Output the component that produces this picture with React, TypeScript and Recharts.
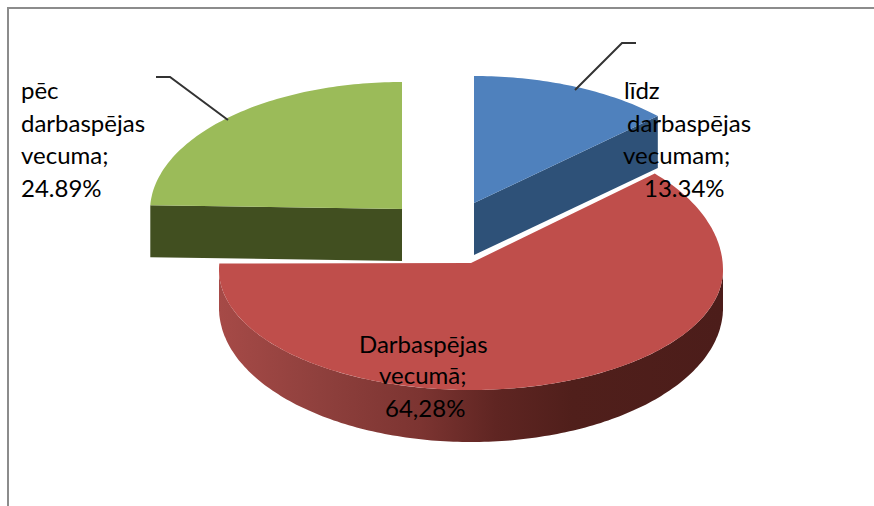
import * as React from "react";
import { PieChart, Pie, Cell } from "recharts";

const CATEGORIES = ["līdz darbaspējas vecumam", "Darbaspējas vecumā", "pēc darbaspējas vecuma"];
const VALUES = [13.34, 64.28, 24.89];
const VALUE_LABELS = ["13.34%", "64,28%", "24.89%"];
const LABEL_LINES = [
  ["līdz", "darbaspējas", "vecumam;", "13.34%"],
  ["Darbaspējas", "vecumā;", "64,28%"],
  ["pēc", "darbaspējas", "vecuma;", "24.89%"],
];
const TOP_COLORS = ["#4f81bd", "#bf4e4b", "#9bbb59"];
const SIDE_COLORS = ["#2e5178", "url(#redWall)", "#414f20"];

const DEPTH = 52;
const FONT = "Lato, 'Open Sans', sans-serif";

// where each exploded slice sits relative to the pie centre, the picture is not a true ellipse
const SLICES = [
  { dx: 3, dy: -67, ryBack: 127, ryFront: 127, apexDy: 0, face: "end" },
  { dx: 0, dy: 0, ryBack: 141, ryFront: 120, apexDy: -7, face: null },
  { dx: -69, dy: -59, ryBack: 129, ryFront: 129, apexDy: -2, face: "start" },
];

const LABEL_POS = [
  { xs: [624, 627, 623, 644], ys: [99, 132, 164, 197], line: "M575 90 L622 43 L636 43" },
  { xs: [359, 379, 385], ys: [353, 384, 417], line: null },
  { xs: [21, 21, 21, 21], ys: [99, 132, 164, 197], line: "M228 120 L170 77 L156 77" },
];

const chartData = CATEGORIES.map((name, i) => ({ name, value: VALUES[i], valueLabel: VALUE_LABELS[i] }));

function rim(cx: number, cy: number, r: number, s: any, deg: number) {
  const a = (deg * Math.PI) / 180;
  const sin = Math.sin(a);
  return [cx + r * Math.cos(a), cy - (sin >= 0 ? s.ryBack : s.ryFront) * sin];
}

function arcDegrees(from: number, to: number) {
  const out: number[] = [];
  const n = Math.max(1, Math.ceil(Math.abs(from - to)));
  for (let i = 0; i <= n; i++) out.push(from + ((to - from) * i) / n);
  return out;
}

const toPath = (pts: number[][]) =>
  pts.map((p, i) => `${i === 0 ? "M" : "L"}${p[0].toFixed(1)} ${p[1].toFixed(1)}`).join(" ") + " Z";

function SliceShape(props: any) {
  const { cx, cy, outerRadius, startAngle, endAngle, name } = props;
  const i = CATEGORIES.indexOf(name);
  const s = SLICES[i];
  const x = cx + s.dx;
  const y = cy + s.dy;
  const apex = [x, y + s.apexDy];
  const top = arcDegrees(startAngle, endAngle).map((d) => rim(x, y, outerRadius, s, d));

  let side: number[][];
  if (s.face) {
    const p = rim(x, y, outerRadius, s, s.face === "end" ? endAngle : startAngle);
    side = [apex, p, [p[0], p[1] + DEPTH], [apex[0], apex[1] + DEPTH]];
  } else {
    // the wall looks thinner towards the sides of the pie
    const degs = arcDegrees(0, -180);
    const upper = degs.map((d) => rim(x, y, outerRadius, s, d));
    const lower = degs.map((d) => {
      const p = rim(x, y, outerRadius, s, d);
      return [p[0], p[1] + DEPTH - 14 * (1 - Math.abs(Math.sin((d * Math.PI) / 180)))];
    });
    side = [...upper, ...lower.reverse()];
  }

  return (
    <g>
      <defs>
        <linearGradient id="redWall" gradientUnits="userSpaceOnUse" x1="219" y1="0" x2="723" y2="0">
          <stop offset="0" stopColor="#a64a47" />
          <stop offset="0.2" stopColor="#8f403d" />
          <stop offset="0.4" stopColor="#7c3431" />
          <stop offset="0.55" stopColor="#5f2522" />
          <stop offset="0.7" stopColor="#501f1b" />
          <stop offset="1" stopColor="#4c1d1a" />
        </linearGradient>
      </defs>
      <path d={toPath(side)} fill={SIDE_COLORS[i]} />
      <path d={toPath([apex, ...top])} fill={TOP_COLORS[i]} />
    </g>
  );
}

function SliceLabel(props: any) {
  const pos = LABEL_POS[props.index];
  return (
    <g>
      {pos.line && <path d={pos.line} fill="none" stroke="#333333" strokeWidth={2} />}
      {LABEL_LINES[props.index].map((t, k) => (
        <text key={k} x={pos.xs[k]} y={pos.ys[k]} fill="#000000" fontSize={24} fontFamily={FONT}>
          {t}
        </text>
      ))}
    </g>
  );
}

export default function App() {
  return (
    <div style={{ position: "absolute", left: 0, top: 0, width: 874, height: 506, background: "#fff", overflow: "hidden" }}>
      <div style={{ position: "absolute", left: 7, top: 7, width: 867, height: 499, borderTop: "2px solid #8c8c8c", borderLeft: "2px solid #8c8c8c" }} />
      <PieChart width={874} height={506} margin={{ top: 0, right: 0, bottom: 0, left: 0 }}>
        <Pie
          data={chartData}
          dataKey="value"
          nameKey="name"
          cx={471}
          cy={270}
          outerRadius={252}
          startAngle={90}
          endAngle={-270}
          stroke="none"
          shape={SliceShape}
          label={SliceLabel}
          labelLine={false}
          isAnimationActive={false}
        >
          {chartData.map((d, i) => (
            <Cell key={d.name} fill={TOP_COLORS[i]} />
          ))}
        </Pie>
      </PieChart>
    </div>
  );
}
